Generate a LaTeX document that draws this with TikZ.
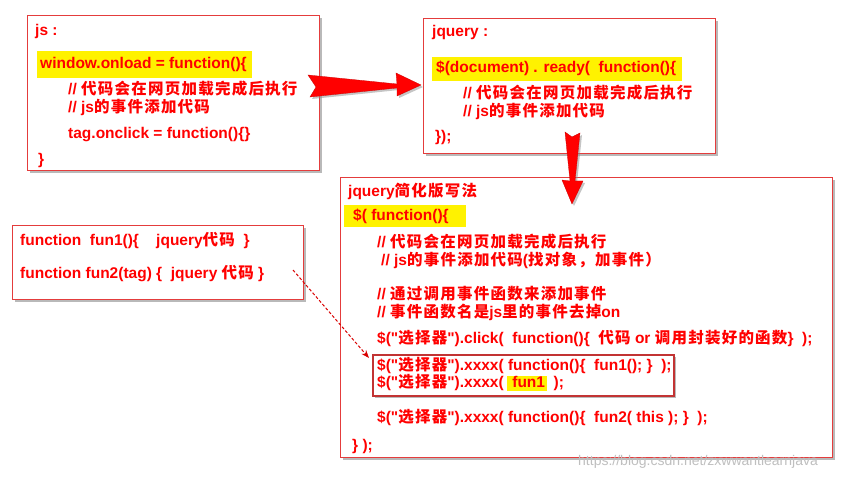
\documentclass[tikz,border=0pt]{standalone}
\usepackage{fontspec}
\newfontfamily\latfont{Liberation Sans}
\newfontfamily\zhfont{Noto Sans CJK SC}[LetterSpace=8]
\usetikzlibrary{shadows,arrows.meta}
\newcommand\zh[1]{{\zhfont\bfseries #1}}
\definecolor{boxred}{RGB}{228,60,60}
\definecolor{txtred}{RGB}{255,0,0}
\begin{document}
\begin{tikzpicture}[x=1pt,y=-1pt,
  box/.style={draw=boxred, line width=0.9pt, fill=white, anchor=north west, inner sep=0pt,
    drop shadow={shadow xshift=3pt, shadow yshift=-3pt, fill=black!50, opacity=0.55}},
  innerbox/.style={draw=boxred!85!black, line width=1.6pt, fill=white, anchor=north west, inner sep=0pt,
    drop shadow={shadow xshift=2pt, shadow yshift=-2pt, fill=black!45, opacity=0.6}},
  hl/.style={fill=yellow, draw=none, anchor=north west, inner sep=0pt},
  t/.style={anchor=base west, inner sep=0pt, text=txtred, font=\latfont\bfseries\fontsize{15.5}{18}\selectfont},
  bigarrow/.style={fill=red, draw=red!80!black, line width=0.3pt,
    drop shadow={shadow xshift=2pt, shadow yshift=-2pt, fill=black!45, opacity=0.5}},
  dasharrow/.style={draw=red!85!black, line width=1pt, dash pattern=on 3pt off 2pt, -{Stealth[length=8pt,width=6pt]}},
  wm/.style={anchor=base west, inner sep=0pt, text=black!25, font=\latfont\fontsize{14}{16}\selectfont}
]
\useasboundingbox[fill=white] (0,0) rectangle (860,478);

% boxes
\node[box, minimum width=292pt, minimum height=155pt] (js) at (27,15) {};
\node[box, minimum width=292pt, minimum height=135pt] (jq) at (423,18) {};
\node[box, minimum width=492pt, minimum height=280pt] (jqs) at (340,177) {};
\node[box, minimum width=291pt, minimum height=74pt] (fn) at (12,225) {};
\node[innerbox, minimum width=301pt, minimum height=41pt] (ib) at (372,354) {};

% highlights
\node[hl, minimum width=215pt, minimum height=27pt] (h1) at (37,51) {};
\node[hl, minimum width=250pt, minimum height=24pt] (h2) at (432,57) {};
\node[hl, minimum width=122pt, minimum height=22pt] (h3) at (344,205) {};
\node[hl, minimum width=40pt, minimum height=15pt] (h4) at (507,376) {};

% box 1 text
\node[t] (a1) at (35,36) {js :};
\node[t] (a2) at (40,69) {window.onload = function()\{};
\node[t] (a3) at (68,95) {// \zh{代码会在网页加载完成后执行}};
\node[t] (a4) at (68,113) {// js\zh{的事件添加代码}};
\node[t] (a5) at (68,139) {tag.onclick = function()\{\}};
\node[t] (a6) at (38,165) {\}};

% box 2 text
\node[t] (b1) at (432,37) {jquery :};
\node[t] (b2) at (436,73) {\$(document) . ready(\ \ function()\{};
\node[t] (b3) at (463,99) {// \zh{代码会在网页加载完成后执行}};
\node[t] (b4) at (463,117) {// js\zh{的事件添加代码}};
\node[t] (b5) at (435,142) {\});};

% box 4 text
\node[t] (d1) at (20,246) {function\ \ fun1()\{\ \ \ \ jquery\zh{代码}\ \ \}};
\node[t] (d2) at (20,279) {function fun2(tag) \{\ \ jquery \zh{代码} \}};

% box 3 text
\node[t] (c1) at (348,197) {jquery\zh{简化版写法}};
\node[t] (c2) at (353,221) {\$( function()\{};
\node[t] (c3) at (377,248) {// \zh{代码会在网页加载完成后执行}};
\node[t] (c4) at (381,266) {// js\zh{的事件添加代码}(\zh{找对象，加事件）}};
\node[t] (c5) at (377,300) {// \zh{通过调用事件函数来添加事件}};
\node[t] (c6) at (377,318) {// \zh{事件函数名是}js\zh{里的事件去掉}on};
\node[t] (c7) at (377,344) {\$("\zh{选择器}").click(\ \ function()\{\ \ \zh{代码} or \zh{调用封装好的函数}\}\ \ );};
\node[t] (c8) at (377,371) {\$("\zh{选择器}").xxxx( function()\{\ \ fun1(); \}\ \ );};
\node[t] (c9) at (377,388) {\$("\zh{选择器}").xxxx(\ \ fun1\ \ );};
\node[t] (c10) at (377,422) {\$("\zh{选择器}").xxxx( function()\{\ \ fun2( this ); \}\ \ );};
\node[t] (c11) at (352,450) {\} );};

% big arrows
\path[bigarrow] (308,75) -- (397,84) -- (396,73) -- (421,85) -- (397,96) -- (397,88) -- (310,97) -- (316,87) -- cycle;
\path[bigarrow] (565,132) -- (572,137) -- (580,133) -- (575,181) -- (583,181) -- (572,204) -- (562,180) -- (570,181) -- cycle;

% dashed arrow
\coordinate (p1) at (293,270);
\coordinate (p2) at (369,358);
\draw[dasharrow] (p1) -- (p2);

% watermark
\node[wm] (w) at (578,465) {https://blog.csdn.net/zxwwantlearnjava};
\end{tikzpicture}
\end{document}
